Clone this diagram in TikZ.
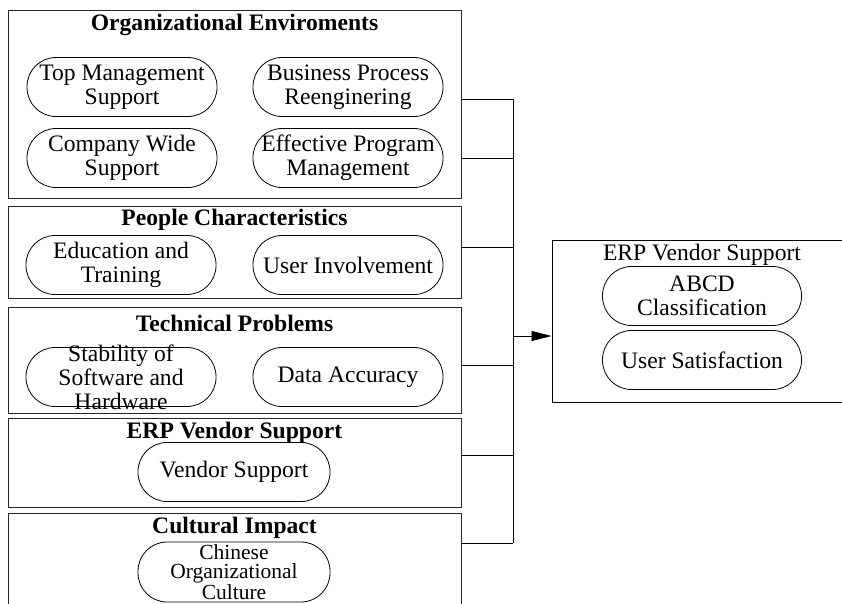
\documentclass[tikz,border=0pt]{standalone}
\usepackage{fontspec}
\setmainfont{Liberation Serif}
\usetikzlibrary{positioning, arrows.meta}
\newcommand{\figfont}{\fontsize{23.6}{24}\selectfont}
\tikzset{group/.style={draw, black!85, line width=1pt, minimum width=453pt, inner sep=0pt},
         oval/.style={draw, line width=0.8pt, rounded corners=29pt, minimum width=190pt, minimum height=59pt, inner sep=0pt},
         heading/.style={font=\figfont\bfseries, inner sep=0pt},
         every label/.style={align=center, inner sep=0pt},
         wire/.style={line width=0.8pt},
        }

\begin{document}
\begin{tikzpicture}[x=1pt, y=-1pt, font=\figfont]
        \clip (0,0) rectangle (842,603);

        \node[group, minimum height=188pt](g1)at(234.5,104){};
        \node[group, minimum height=92pt](g2)at(234.5,252){};
        \node[group, minimum height=106pt](g3)at(234.5,360){};
        \node[group, minimum height=89pt](g4)at(234.5,462.5){};
        \node[group, minimum height=110pt](g5)at(234.5,568){};
        \node[draw, line width=1pt, minimum width=291pt, minimum height=162pt, inner sep=0pt](erp)at(697.5,321){};

        \node[heading](h1)at(234.5,25){Organizational Enviroments};
        \node[heading](h2)at(234.5,220){People Characteristics};
        \node[heading](h3)at(234.5,323){Technical Problems};
        \node[heading](h4)at(234.5,433){ERP Vendor Support};
        \node[heading](h5)at(234.5,528){Cultural Impact};
        \node[inner sep=0pt](h6)at(702,255){ERP Vendor Support};

        \node[oval, label=center:{Top Management\\Support}](o1)at(122,87){};
        \node[oval, label=center:{Business Process\\Reenginering}](o2)at(348,87){};
        \node[oval, label=center:{Company Wide\\Support}](o3)at(122,158){};
        \node[oval, label=center:{Effective Program\\Management}](o4)at(348,158){};
        \node[oval, label=center:{Education and\\Training}](o5)at(121,265){};
        \node[oval, label=center:{User Involvement}](o6)at(348,265){};
        \node[oval, label=center:{Stability of\\Software and\\Hardware}](o7)at(121,377){};
        \node[oval, label=center:{Data Accuracy}](o8)at(348,377){};
        \node[oval, minimum width=192pt, label=center:{Vendor Support}](o9)at(234,472){};
        \node[oval, minimum width=192pt, minimum height=60pt,
              label={[font=\fontsize{21.5}{19.5}\selectfont]center:{Chinese\\Organizational\\Culture}}](o10)at(234,572){};
        \node[oval, minimum width=199pt, label=center:{ABCD\\Classification}](o11)at(702,296){};
        \node[oval, minimum width=199pt, label=center:{User Satisfaction}](o12)at(702,360){};

        \coordinate(b1)at(513,99);
        \coordinate(b2)at(513,158);
        \coordinate(b3)at(513,247);
        \coordinate(b4)at(513,365);
        \coordinate(b5)at(513,455);
        \coordinate(b6)at(513,543);
        \coordinate(j)at(513,336);

        \draw[wire](g1.east |- b1)--(b1);
        \draw[wire](g1.east |- b2)--(b2);
        \draw[wire](g2.east |- b3)--(b3);
        \draw[wire](g3.east |- b4)--(b4);
        \draw[wire](g4.east |- b5)--(b5);
        \draw[wire](g5.east |- b6)--(b6);
        \draw[wire](b1)--(b6);
        \draw[wire, -{Triangle[length=20pt, width=10pt]}](j)--(erp.west |- j);
    \end{tikzpicture}
\end{document}
